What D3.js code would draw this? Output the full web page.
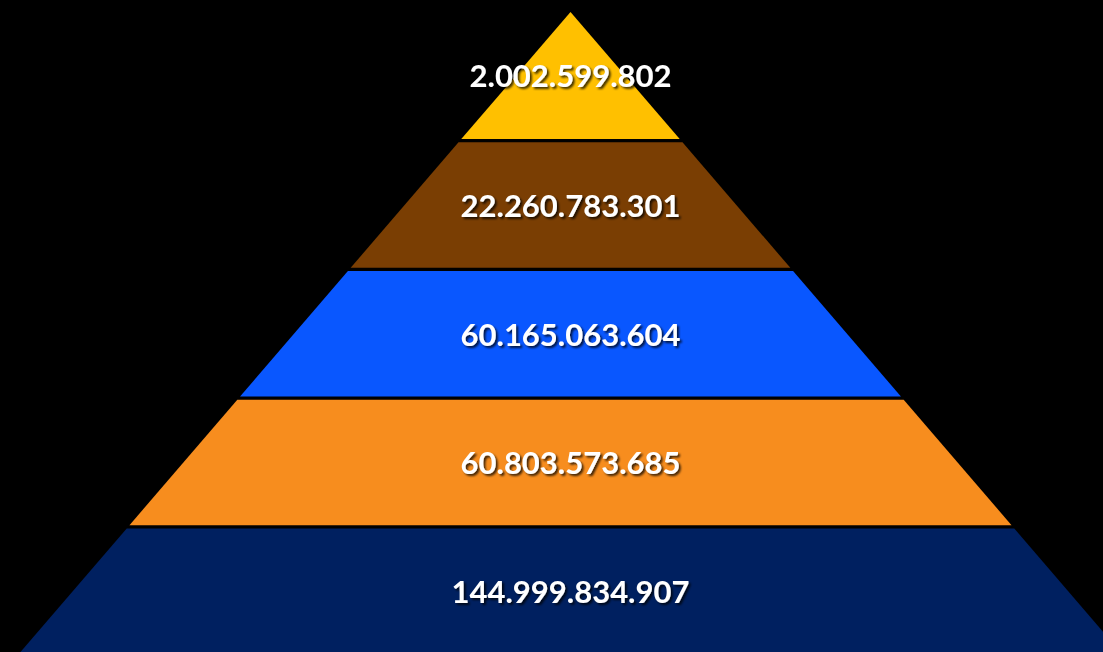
<!DOCTYPE html>
<html><head><meta charset="utf-8">
<script src="https://cdn.jsdelivr.net/npm/d3@7"></script>
<style>html,body{margin:0;padding:0;background:#000;overflow:hidden}</style>
</head><body>
<svg id="chart" width="1103" height="652"></svg>
<script>
const layers = ["L1", "L2", "L3", "L4", "L5"];
const values = [2002599802, 22260783301, 60165063604, 60803573685, 144999834907];
const colors = ["#FFC000", "#7A3E03", "#0957FF", "#F78D1E", "#002060"];

const W = 1103, H = 652, cx = 570.5, apexY = 12;
const svg = d3.select("#chart");
svg.append("rect").attr("width", W).attr("height", H).attr("fill", "#000");

const defs = svg.append("defs");
const f = defs.append("filter").attr("id", "sh").attr("x", "-10%").attr("y", "-30%").attr("width", "130%").attr("height", "170%");
f.append("feDropShadow").attr("dx", 2).attr("dy", 2).attr("stdDeviation", 1.2).attr("flood-color", "#000").attr("flood-opacity", 0.75);

const y = d3.scaleBand().domain(layers).range([apexY, 655.5]).paddingInner(0);
const half = d3.scaleLinear().domain([apexY, 652]).range([0, 550]);
const fmt = d3.formatLocale({decimal: ",", thousands: ".", grouping: [3], currency: ["", ""]}).format(",d");

const gap = 1.6;
layers.forEach((L, i) => {
  const t = i === 0 ? apexY : y(L) + gap;
  const b = y(L) + y.bandwidth() - (i === layers.length - 1 ? 0 : gap);
  const pts = [[cx - half(t), t], [cx + half(t), t], [cx + half(b), b], [cx - half(b), b]];
  svg.append("path").attr("d", d3.line()(pts) + "Z").attr("fill", colors[i]);
});

layers.forEach((L, i) => {
  const top = i === 0 ? apexY : y(L);
  const bot = Math.min(y(L) + y.bandwidth(), i === layers.length - 1 ? 655.5 : 1e9);
  const my = (top + bot) / 2 - (i === 0 ? 1.5 : 0);
  svg.append("text")
    .attr("x", cx).attr("y", my)
    .attr("text-anchor", "middle").attr("dominant-baseline", "central")
    .attr("font-family", "Lato, 'Open Sans', sans-serif").attr("font-weight", 700)
    .attr("font-size", 31).attr("fill", "#fff").attr("filter", "url(#sh)")
    .text(fmt(values[i]));
});
</script>
</body></html>
